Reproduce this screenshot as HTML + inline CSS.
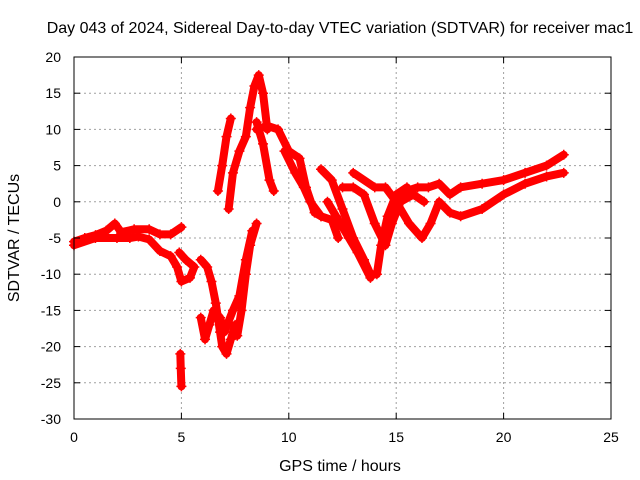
<!DOCTYPE html>
<html><head><meta charset="utf-8"><style>
body{margin:0;background:#fff;}
svg{display:block;font-family:"Liberation Sans",sans-serif;font-size:14px;}
.big{font-size:16px;}
</style></head><body>
<svg id="chart" width="640" height="480">
<text class="big" x="340" y="33" text-anchor="middle">Day 043 of 2024, Sidereal Day-to-day VTEC variation (SDTVAR) for receiver mac1</text>
<g id="grid"></g><g id="series"></g><g id="axes"></g>
<text class="big" x="340" y="471" text-anchor="middle">GPS time / hours</text>
<text class="big" transform="translate(19,238) rotate(-90)" text-anchor="middle">SDTVAR / TECUs</text>
</svg>
<script>
const xTicks=[0,5,10,15,20,25];
const yTicks=[20,15,10,5,0,-5,-10,-15,-20,-25,-30];
const track1=[[0,-5.5],[0.5,-5],[1,-4.6],[1.5,-4],[1.9,-3],[2.2,-4.2],[2.8,-3.8],[3.5,-3.8],[4,-4.5],[4.5,-4.5],[5,-3.5]];
const track2=[[0,-6],[1,-5],[2,-5],[2.6,-5],[3,-4.8],[3.5,-5.2],[4,-6.8],[4.5,-7.5],[4.8,-9],[5,-11],[5.4,-10.5],[5.6,-9],[5.2,-8],[4.9,-7]];
const track3=[[4.95,-21],[4.97,-23],[5.0,-25.5]];
const track4=[[5.9,-8],[6.2,-9],[6.4,-11],[6.6,-14],[6.8,-18],[6.9,-20],[7.1,-21],[7.3,-19],[7.5,-17],[7.6,-18.5],[7.8,-15],[8.0,-10],[8.2,-6],[8.5,-3]];
const track5=[[5.9,-16],[6.1,-19],[6.3,-17],[6.5,-15],[6.8,-16],[7.0,-18],[7.4,-15],[7.7,-13],[8.0,-8],[8.3,-4]];
const track6=[[6.7,1.5],[6.9,5],[7.1,9],[7.3,11.5]];
const track7=[[7.2,-1],[7.4,4],[7.7,7],[8,9],[8.2,13],[8.4,16],[8.6,17.5],[8.8,15],[9,10]];
const track8=[[8.5,11],[8.8,8],[9.1,3],[9.3,1.5]];
const track9=[[8.5,10],[9,10.5],[9.5,10],[10,7],[10.5,6],[10.8,2],[11.2,-1.5],[11.5,-2]];
const track10=[[9.8,7],[10.3,4],[10.7,2],[11,0],[11.5,-2],[12,-2.5],[12.3,-5]];
const track11=[[11.5,4.5],[12,3],[12.5,-1],[13,-5],[13.5,-8],[13.8,-10],[14.1,-10],[14.3,-6],[14.6,-2],[15,1],[15.5,2]];
const track12=[[11.8,0],[12.2,-2],[12.8,-5],[13.2,-7],[13.8,-10.5]];
const track13=[[12.5,2],[13,2],[13.5,1],[14,-3],[14.5,-6],[14.8,-3],[15.2,0],[15.8,1],[16.3,0]];
const track14=[[13,4],[14,2],[14.5,2],[15,0],[15.6,-3],[16.2,-5],[16.6,-3],[17,0],[17.5,-1.5],[18,-2],[19,-1],[20,1],[21,2.5],[22,3.5],[22.8,4]];
const track15=[[15,-1],[15.5,1.5],[16,2],[16.5,2],[17,2.5],[17.5,1],[18,2],[19,2.5],[20,3],[21,4],[22,5],[22.8,6.5]];
const tracks=[track1,track2,track3,track4,track5,track6,track7,track8,track9,track10,track11,track12,track13,track14,track15];
const X0=74,X1=611,Y0=419,Y1=57;
const sx=v=>X0+(v-0)/25*(X1-X0);
const sy=v=>Y0-(v+30)/50*(Y0-Y1);
const NS='http://www.w3.org/2000/svg';
function mk(t,a,p){const e=document.createElementNS(NS,t);for(const k in a)e.setAttribute(k,a[k]);p.appendChild(e);return e;}
const grid=document.getElementById('grid'),axes=document.getElementById('axes'),ser=document.getElementById('series');
xTicks.forEach(t=>{
 if(t>0&&t<25){const l=mk('line',{x1:sx(t),x2:sx(t),y1:Y1,y2:Y0,stroke:'#a0a0a0','stroke-dasharray':'2,3'},grid);
 }
 mk('line',{x1:sx(t),x2:sx(t),y1:Y0,y2:Y0-6,stroke:'#000'},axes);
 mk('line',{x1:sx(t),x2:sx(t),y1:Y1,y2:Y1+6,stroke:'#000'},axes);
 const tx=mk('text',{x:sx(t),y:Y0+23,'text-anchor':'middle'},axes);tx.textContent=t;
 
});
yTicks.forEach(t=>{
 if(t>-30&&t<20){const l=mk('line',{x1:X0,x2:X1,y1:sy(t),y2:sy(t),stroke:'#a0a0a0','stroke-dasharray':'2,3'},grid);
 }
 mk('line',{x1:X0,x2:X0+6,y1:sy(t),y2:sy(t),stroke:'#000'},axes);
 mk('line',{x1:X1,x2:X1-6,y1:sy(t),y2:sy(t),stroke:'#000'},axes);
 const tx=mk('text',{x:X0-13,y:sy(t)+5,'text-anchor':'end'},axes);tx.textContent=t;
 
});
const box=mk('rect',{x:X0,y:Y1,width:X1-X0,height:Y0-Y1,fill:'none',stroke:'#000'},axes);

tracks.forEach((tr,i)=>{
 const g=mk('g',{},ser);
 
 
 mk('polyline',{points:tr.map(p=>sx(p[0])+','+sy(p[1])).join(' '),fill:'none',stroke:'#f00','stroke-width':8,'stroke-linejoin':'round','stroke-linecap':'round'},g);
 tr.forEach(p=>{const x=sx(p[0]),y=sy(p[1]);
  mk('path',{d:`M${x-5},${y}H${x+5}M${x},${y-5}V${y+5}`,stroke:'#f00','stroke-width':1.5},g);});
});
</script>
</body></html>
